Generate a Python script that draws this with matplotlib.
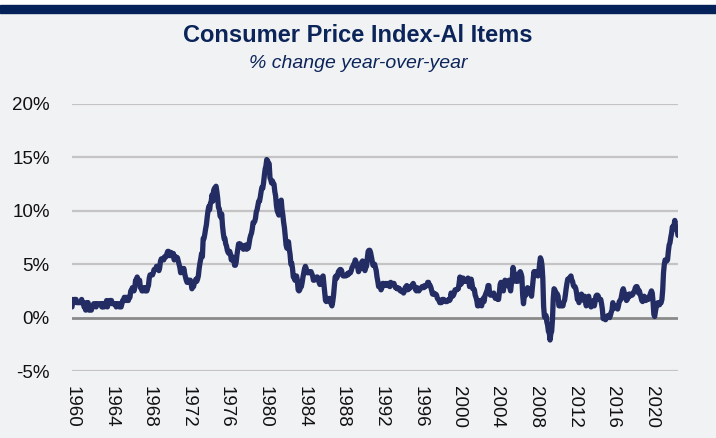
import matplotlib.pyplot as plt
import matplotlib.patches as mpatches
import numpy as np

# CPI-U, % change year-over-year, monthly (Jan 1960 - Oct 2022)
cpi_1960s = [
    1.0, 1.7, 1.4, 1.7, 1.7, 1.7, 1.4, 1.4, 1.4, 1.4, 1.4, 1.4,
    1.7, 1.4, 1.4, 1.0, 1.0, 0.7, 1.4, 1.0, 1.4, 0.7, 0.7, 0.7,
    0.7, 1.0, 1.0, 1.3, 1.3, 1.3, 1.0, 1.3, 1.3, 1.3, 1.3, 1.3,
    1.3, 1.0, 1.3, 1.0, 1.0, 1.3, 1.3, 1.6, 1.0, 1.3, 1.3, 1.6,
    1.6, 1.6, 1.3, 1.3, 1.3, 1.3, 1.3, 1.0, 1.3, 1.3, 1.3, 1.0,
    1.0, 1.0, 1.3, 1.6, 1.6, 1.9, 1.6, 1.9, 1.6, 1.9, 1.6, 1.9,
    1.9, 2.5, 2.5, 2.8, 2.8, 2.5, 2.8, 3.5, 3.5, 3.8, 3.5, 3.5,
    3.5, 2.8, 2.8, 2.5, 2.5, 2.8, 2.8, 2.5, 2.8, 2.5, 2.8, 3.0,
    3.7, 4.0, 4.0, 4.0, 4.0, 4.2, 4.5, 4.5, 4.5, 4.8, 4.8, 4.7,
    4.4, 4.7, 5.3, 5.5, 5.5, 5.5, 5.4, 5.7, 5.7, 5.7, 6.0, 6.2,
]
cpi_1970s = [
    6.2, 6.1, 5.8, 6.1, 6.0, 6.0, 6.0, 5.4, 5.7, 5.7, 5.6, 5.6,
    5.3, 5.0, 4.7, 4.2, 4.4, 4.6, 4.4, 4.6, 4.1, 3.8, 3.5, 3.3,
    3.3, 3.5, 3.5, 3.5, 3.2, 2.7, 2.9, 2.9, 3.2, 3.4, 3.6, 3.4,
    3.6, 3.9, 4.6, 5.1, 5.5, 6.0, 5.7, 7.4, 7.4, 7.8, 8.3, 8.7,
    9.4, 10.0, 10.4, 10.1, 10.7, 10.9, 11.5, 10.9, 11.9, 12.1, 12.2, 12.3,
    11.8, 11.2, 10.3, 10.2, 9.5, 9.4, 9.7, 8.6, 7.9, 7.4, 7.4, 6.9,
    6.7, 6.3, 6.1, 6.0, 6.2, 5.9, 5.4, 5.7, 5.5, 5.5, 4.9, 4.9,
    5.2, 5.9, 6.4, 6.9, 6.7, 6.9, 6.8, 6.6, 6.6, 6.4, 6.7, 6.7,
    6.8, 6.4, 6.6, 6.5, 6.9, 7.4, 7.7, 7.9, 8.3, 8.9, 8.9, 9.0,
    9.3, 9.9, 10.1, 10.5, 10.9, 10.9, 11.3, 11.8, 12.2, 12.1, 12.6, 13.3,
]
cpi_1980s = [
    13.9, 14.2, 14.8, 14.7, 14.4, 14.4, 13.1, 12.9, 12.6, 12.8, 12.6, 12.5,
    11.8, 11.4, 10.5, 10.0, 9.8, 9.6, 10.8, 10.8, 11.0, 10.1, 9.6, 8.9,
    8.4, 7.6, 6.8, 6.5, 6.7, 7.1, 6.4, 5.9, 5.0, 5.1, 4.6, 3.8,
    3.7, 3.5, 3.6, 3.9, 3.5, 2.6, 2.5, 2.6, 2.9, 2.9, 3.3, 3.8,
    4.2, 4.6, 4.8, 4.6, 4.2, 4.2, 4.2, 4.3, 4.3, 4.3, 4.1, 3.9,
    3.5, 3.5, 3.7, 3.7, 3.8, 3.8, 3.6, 3.3, 3.1, 3.2, 3.5, 3.8,
    3.9, 3.1, 2.2, 1.6, 1.5, 1.8, 1.6, 1.6, 1.8, 1.5, 1.3, 1.1,
    1.5, 2.1, 3.0, 3.8, 3.9, 3.7, 3.9, 4.3, 4.4, 4.5, 4.5, 4.4,
    4.0, 3.9, 3.9, 3.9, 3.9, 4.0, 4.1, 4.0, 4.2, 4.2, 4.2, 4.4,
    4.7, 4.8, 5.0, 5.1, 5.4, 5.2, 5.0, 4.7, 4.3, 4.5, 4.7, 4.6,
]
cpi_1990s = [
    5.2, 5.3, 5.2, 4.7, 4.4, 4.7, 4.8, 5.6, 6.2, 6.3, 6.3, 6.1,
    5.7, 5.3, 4.9, 4.9, 5.0, 4.7, 4.4, 3.8, 3.4, 2.9, 3.0, 3.1,
    2.6, 2.8, 3.2, 3.2, 3.0, 3.1, 3.2, 3.1, 3.0, 3.2, 3.0, 2.9,
    3.3, 3.2, 3.1, 3.2, 3.2, 3.0, 2.8, 2.8, 2.7, 2.8, 2.7, 2.7,
    2.5, 2.5, 2.5, 2.4, 2.3, 2.5, 2.8, 2.9, 3.0, 2.6, 2.7, 2.7,
    2.8, 2.9, 2.9, 3.1, 3.2, 3.0, 2.8, 2.6, 2.5, 2.8, 2.6, 2.5,
    2.7, 2.7, 2.8, 2.9, 2.9, 2.8, 3.0, 2.9, 3.0, 3.0, 3.3, 3.3,
    3.0, 3.0, 2.8, 2.5, 2.2, 2.3, 2.2, 2.2, 2.2, 2.1, 1.8, 1.7,
    1.6, 1.4, 1.4, 1.4, 1.7, 1.7, 1.7, 1.6, 1.5, 1.5, 1.5, 1.6,
    1.7, 1.6, 1.7, 2.3, 2.1, 2.0, 2.1, 2.3, 2.6, 2.6, 2.6, 2.7,
]
cpi_2000s = [
    2.7, 3.2, 3.8, 3.1, 3.2, 3.7, 3.7, 3.4, 3.5, 3.4, 3.4, 3.4,
    3.7, 3.5, 2.9, 3.3, 3.6, 3.2, 2.7, 2.7, 2.6, 2.1, 1.9, 1.6,
    1.1, 1.1, 1.5, 1.6, 1.2, 1.1, 1.5, 1.8, 1.5, 2.0, 2.2, 2.4,
    2.6, 3.0, 3.0, 2.2, 2.1, 2.1, 2.1, 2.2, 2.3, 2.0, 1.8, 1.9,
    1.9, 1.7, 1.7, 2.3, 3.1, 3.3, 3.0, 2.7, 2.5, 3.2, 3.5, 3.3,
    3.0, 3.0, 3.1, 3.5, 2.8, 2.5, 3.2, 3.6, 4.7, 4.3, 3.5, 3.4,
    4.0, 3.6, 3.4, 3.5, 4.2, 4.3, 4.1, 3.8, 2.1, 1.3, 2.0, 2.5,
    2.1, 2.4, 2.8, 2.6, 2.7, 2.7, 2.4, 2.0, 2.8, 3.5, 4.3, 4.1,
    4.3, 4.0, 4.0, 3.9, 4.2, 5.0, 5.6, 5.4, 4.9, 3.7, 1.1, 0.1,
    0.0, 0.2, -0.4, -0.7, -1.3, -1.4, -2.1, -1.5, -1.3, -0.2, 1.8, 2.7,
]
cpi_2010s = [
    2.6, 2.1, 2.3, 2.2, 2.0, 1.1, 1.2, 1.1, 1.1, 1.2, 1.1, 1.5,
    1.6, 2.1, 2.7, 3.2, 3.6, 3.6, 3.6, 3.8, 3.9, 3.5, 3.4, 3.0,
    2.9, 2.9, 2.7, 2.3, 1.7, 1.7, 1.4, 1.7, 2.0, 2.2, 1.8, 1.7,
    1.6, 2.0, 1.5, 1.1, 1.4, 1.8, 2.0, 1.5, 1.2, 1.0, 1.2, 1.5,
    1.6, 1.1, 1.5, 2.0, 2.1, 2.1, 2.0, 1.7, 1.7, 1.7, 1.3, 0.8,
    -0.1, 0.0, -0.1, -0.2, 0.0, 0.1, 0.2, 0.2, 0.0, 0.2, 0.5, 0.7,
    1.4, 1.0, 0.9, 1.1, 1.0, 1.0, 0.8, 1.1, 1.5, 1.6, 1.7, 2.1,
    2.5, 2.7, 2.4, 2.2, 1.9, 1.6, 1.7, 1.9, 2.2, 2.0, 2.2, 2.1,
    2.1, 2.2, 2.4, 2.5, 2.8, 2.9, 2.9, 2.7, 2.3, 2.5, 2.2, 1.9,
    1.6, 1.5, 1.9, 2.0, 1.8, 1.6, 1.8, 1.7, 1.7, 1.8, 2.1, 2.3,
]
cpi_2020s = [
    2.5, 2.3, 1.5, 0.3, 0.1, 0.6, 1.0, 1.3, 1.4, 1.2, 1.2, 1.4,
    1.4, 1.7, 2.6, 4.2, 5.0, 5.4, 5.4, 5.3, 5.4, 6.2, 6.8, 7.0,
    7.5, 7.9, 8.5, 8.3, 8.6, 9.1, 8.5, 8.3, 8.2, 7.7,
]
tick_years = list(range(1960, 2021, 4))
y_ticks = [-5, 0, 5, 10, 15, 20]

values = np.array(cpi_1960s + cpi_1970s + cpi_1980s + cpi_1990s
                  + cpi_2000s + cpi_2010s + cpi_2020s)
dates = 1960 + np.arange(len(values)) / 12

bg = "#f1f2f4"
navy = "#0b2459"
line_col = "#232d63"

plt.rcParams["font.family"] = ["Liberation Sans", "DejaVu Sans"]

fig = plt.figure(figsize=(7.16, 4.38), dpi=100, facecolor=bg)
ax = fig.add_axes([72 / 716, 67 / 438, 606 / 716, 267 / 438])
ax.set_facecolor(bg)

# top band
fig.patches.append(mpatches.Rectangle((0, 1 - 5 / 438), 1, 5 / 438,
                                      transform=fig.transFigure, color="white", zorder=0))
fig.patches.append(mpatches.Rectangle((0, 1 - 13 / 438), 1, 8 / 438,
                                      transform=fig.transFigure, color="#05215a", zorder=0))

fig.text(0.5, 1 - 36 / 438, "Consumer Price Index-Al Items", ha="center", va="center",
         fontsize=17, fontweight="bold", color=navy)
fig.text(0.5, 1 - 63 / 438, "% change year-over-year", ha="center", va="center",
         fontsize=14, fontstyle="italic", color=navy)

for y in y_ticks:
    ax.axhline(y, color="#8a8a8a" if y == 0 else "#c4c4c4",
               lw=2.0 if y == 0 else 1.6, zorder=1)

ax.plot(dates, values, color=line_col, lw=3.8, solid_joinstyle="round",
        solid_capstyle="round", zorder=3)

ax.set_xlim(1960, dates[-1])
ax.set_ylim(-5, 20)
ax.set_yticks(y_ticks)
ax.set_yticklabels([f"{v}%" for v in y_ticks])
ax.set_xticks(tick_years)
ax.set_xticklabels([str(y) for y in tick_years], rotation=270)
ax.tick_params(axis="y", length=0, pad=16, labelsize=13.5, labelcolor="#111111")
ax.tick_params(axis="x", length=0, pad=11, labelsize=13.5, labelcolor="#111111")
for s in ax.spines.values():
    s.set_visible(False)

fig.savefig("out.png", dpi=100, facecolor=bg)
